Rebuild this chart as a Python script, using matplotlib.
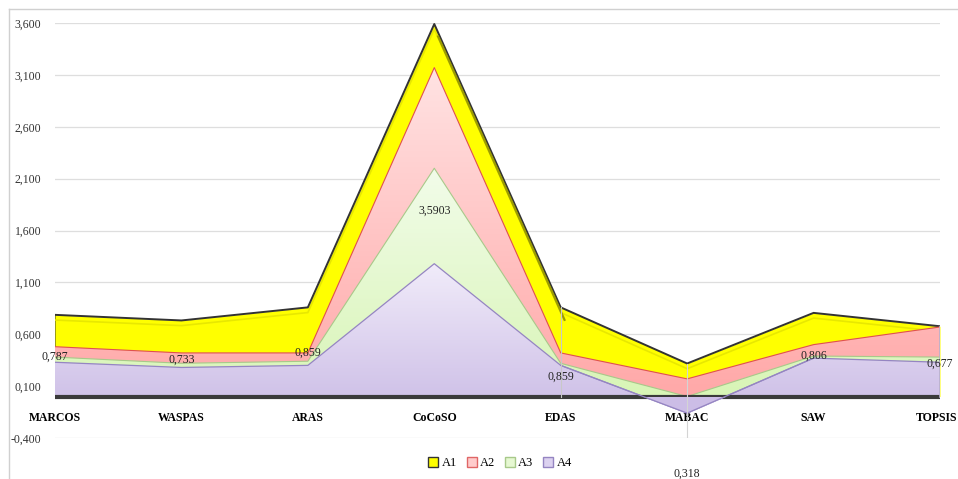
import numpy as np
import matplotlib
matplotlib.use("Agg")
import matplotlib.pyplot as plt
import matplotlib.transforms as mtransforms
from matplotlib.patches import Patch
from matplotlib.ticker import FuncFormatter
from matplotlib.lines import Line2D

methods = ["MARCOS", "WASPAS", "ARAS", "CoCoSO", "EDAS", "MABAC", "SAW", "TOPSIS"]
a1 = [0.787, 0.733, 0.859, 3.5903, 0.859, 0.318, 0.806, 0.677]
a2 = [0.48, 0.42, 0.42, 3.17, 0.42, 0.17, 0.50, 0.67]
a3 = [0.38, 0.32, 0.34, 2.20, 0.32, 0.0, 0.39, 0.38]
a4 = [0.33, 0.28, 0.30, 1.28, 0.30, -0.16, 0.37, 0.33]
label_text = ["0,787", "0,733", "0,859", "3,5903", "0,859", "0,318", "0,806", "0,677"]
label_y = [0.38, 0.35, 0.42, 1.79, 0.19, -0.74, 0.39, 0.32]

plt.rcParams["font.family"] = ["Liberation Serif", "DejaVu Serif"]

fig = plt.figure(figsize=(9.58, 4.79), dpi=100)
ax = fig.add_axes([55 / 958, 1 - 438 / 479, 885 / 958, 415 / 479])
x = np.arange(len(methods))


def gradient_fill(ax, y, top_col, bot_col, edge, lw, z):
    poly = ax.fill_between(x, 0, y, color="none", lw=0, zorder=z)
    grad = np.linspace(0, 1, 256).reshape(-1, 1, 1)
    c1 = np.array(matplotlib.colors.to_rgb(top_col))
    c2 = np.array(matplotlib.colors.to_rgb(bot_col))
    img = c1 + (c2 - c1) * grad
    lo = min(0, min(y))
    hi = max(y)
    im = ax.imshow(img, extent=[0, 7, lo, hi], aspect="auto", origin="upper", zorder=z - 0.1)
    im.set_clip_path(poly.get_paths()[0], ax.transData)
    ax.plot(x, y, color=edge, lw=lw, zorder=z + 0.1)
    return poly


# A1 back, A4 front
ax.fill_between(x, 0, a1, color="#FFFF00", lw=0, zorder=2)
ax.plot([0, 0], [0, a1[0]], color="#8a8a00", lw=1.2, zorder=2.1)
ax.plot(x, np.array(a1) - 0.05, color="#e8e800", lw=1.2, zorder=2.2)
ax.plot(x, a1, color="#333333", lw=1.4, zorder=2.3)
ax.plot(x[3:5] + 0.03, np.array(a1[3:5]) - 0.12, color="#9c9c00", lw=1.6, zorder=2.3)
gradient_fill(ax, a2, "#FFE3E3", "#FFA8A8", "#E05050", 0.8, 3)
gradient_fill(ax, a3, "#F2FCEA", "#D8F5B6", "#A8C98A", 0.8, 4)
gradient_fill(ax, a4, "#F1ECFA", "#CCBDE6", "#9585C2", 0.9, 5)
ax.plot([7, 7], [0, a2[7]], color="#b8b0cc", lw=1.2, zorder=5.3)

# baseline floor; negative part of A4 sits in front of it
ax.plot([0, 7], [-0.006, -0.006], color="#3a3a3a", lw=3, zorder=5.2, solid_capstyle="butt")
a4_arr = np.array(a4)
ax.fill_between(x, 0, a4_arr, where=a4_arr < 0, interpolate=True,
                color="#CCBDE6", lw=0, zorder=5.3)
ax.plot(x[4:7], a4[4:7], color="#9585C2", lw=0.9, zorder=5.4)

# leader lines
ax.plot([4, 4], [0, a1[4]], color="#c8c8c8", lw=0.8, zorder=5.5)
ax.plot([5, 5], [-0.64, a1[5]], color="#d4d4d4", lw=0.8, zorder=5.5)

for i, t in enumerate(label_text):
    ax.text(x[i], label_y[i], t, ha="center", va="center", fontsize=8.5,
            color="#222222", zorder=6, clip_on=False)

ax.set_xlim(0, 7)
ax.set_ylim(-0.4, 3.6)
ax.set_yticks(np.arange(-0.4, 3.61, 0.5))
ax.yaxis.set_major_formatter(FuncFormatter(lambda v, p: f"{v:.3f}".replace(".", ",")))
ax.grid(axis="y", color="#dedede", lw=0.9, zorder=0)
ax.set_axisbelow(True)
for s in ax.spines.values():
    s.set_visible(False)
ax.spines["bottom"].set_position(("data", 0))
ax.set_xticks(x)
ax.set_xticklabels(methods, fontweight="bold", fontsize=8.5)
ax.tick_params(axis="x", length=0, pad=11)
ax.tick_params(axis="y", length=0, pad=10, labelsize=8.5, labelcolor="#333333")
last = ax.get_xticklabels()[-1]
last.set_transform(last.get_transform() + mtransforms.ScaledTranslation(-3 / 100, 0, fig.dpi_scale_trans))

handles = [Patch(facecolor="#FFFF00", edgecolor="#333333", label="A1"),
           Patch(facecolor="#FFCCCC", edgecolor="#E06666", label="A2"),
           Patch(facecolor="#E6F8D2", edgecolor="#A8C98A", label="A3"),
           Patch(facecolor="#DCD2F0", edgecolor="#9585C2", label="A4")]
fig.legend(handles=handles, loc="center", bbox_to_anchor=(500 / 958, 1 - 463 / 479),
           ncol=4, frameon=False, fontsize=9, handlelength=0.8, handleheight=0.8,
           handletextpad=0.25, columnspacing=0.8)

# chart frame
fig.add_artist(Line2D([9 / 958, 1], [1 - 9 / 479] * 2, color="#d0d0d0", lw=1))
fig.add_artist(Line2D([9 / 958] * 2, [0, 1 - 9 / 479], color="#d0d0d0", lw=1))

fig.savefig("out.png", dpi=100)
